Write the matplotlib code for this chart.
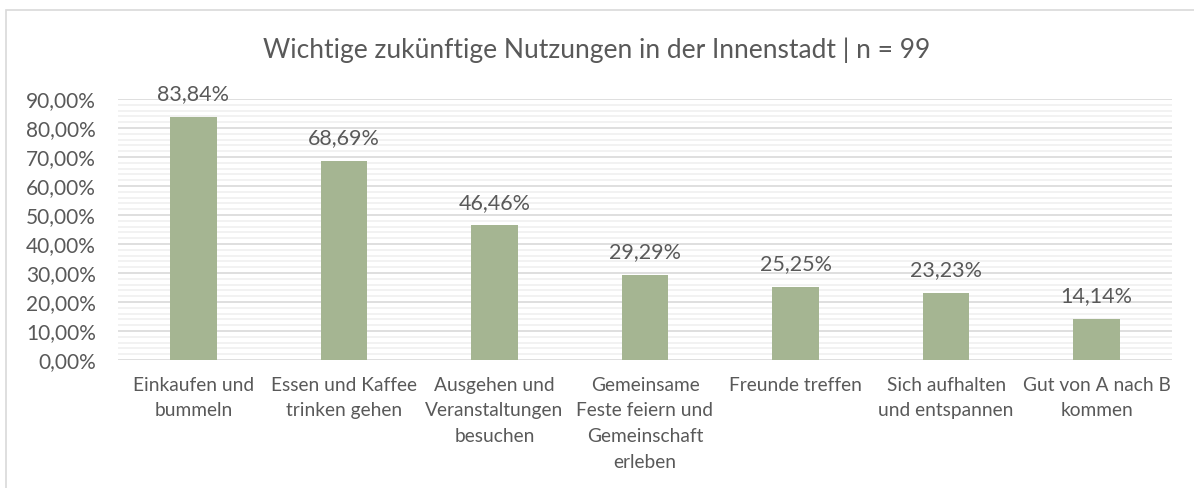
import matplotlib
matplotlib.use("Agg")
import matplotlib.pyplot as plt
from matplotlib.ticker import MultipleLocator, FuncFormatter
from matplotlib.patches import Rectangle

categories = ["Einkaufen und\nbummeln", "Essen und Kaffee\ntrinken gehen",
              "Ausgehen und\nVeranstaltungen\nbesuchen",
              "Gemeinsame\nFeste feiern und\nGemeinschaft\nerleben",
              "Freunde treffen", "Sich aufhalten\nund entspannen",
              "Gut von A nach B\nkommen"]
values = [83.84, 68.69, 46.46, 29.29, 25.25, 23.23, 14.14]
title = "Wichtige zukünftige Nutzungen in der Innenstadt | n = 99"

plt.rcParams['font.family'] = ['Lato', 'DejaVu Sans']
txt = '#595959'

fig = plt.figure(figsize=(11.94, 4.88), dpi=100)
fig.patches.append(Rectangle((6/1194, -0.01), 1.02, 1 - 10/488 + 0.01, transform=fig.transFigure,
                             fill=False, edgecolor='#D9D9D9', linewidth=1.2))
ax = fig.add_axes([118/1194, 1 - 360/488, (1172 - 118)/1194, (360 - 99)/488])
x = range(len(categories))
ax.bar(x, values, width=0.31, color='#A5B592', zorder=3)
ax.set_xlim(-0.5, len(categories) - 0.5)
ax.set_ylim(0, 90)
ax.yaxis.set_major_locator(MultipleLocator(10))
ax.yaxis.set_minor_locator(MultipleLocator(2))
ax.yaxis.set_major_formatter(FuncFormatter(lambda v, p: f"{v:.2f}%".replace('.', ',')))
ax.grid(axis='y', which='major', color='#D9D9D9', linewidth=1.2, zorder=0)
ax.grid(axis='y', which='minor', color='#F0F0F0', linewidth=1.2, zorder=0)
for s in ax.spines.values():
    s.set_visible(False)
ax.tick_params(axis='both', which='both', length=0, colors=txt)
ax.tick_params(axis='y', pad=16, labelsize=15)
ax.set_xticks(list(x))
ax.set_xticklabels(categories, linespacing=1.62, va='top', fontsize=13.8)
ax.tick_params(axis='x', pad=12)
for i, v in zip(x, values):
    ax.annotate(f"{v:.2f}%".replace('.', ','), (i, v), xytext=(0, 9), textcoords='offset points',
                ha='center', va='bottom', color=txt, fontsize=15.5)
fig.text(597/1194, 1 - 50/488, title, ha='center', va='center', color=txt, fontsize=19)
fig.savefig('out.png', dpi=100)
